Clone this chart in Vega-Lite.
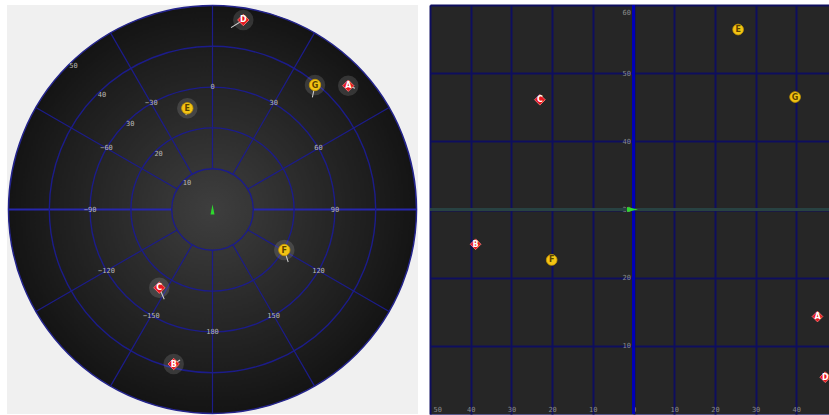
{
  "$schema": "https://vega.github.io/schema/vega-lite/v6.json",
  "background": "#ffffff",
  "padding": {"left": 4, "top": 2, "right": 0, "bottom": 0},
  "spacing": 12,
  "bounds": "flush",
  "config": {"view": {"stroke": null}, "font": "DejaVu Sans Mono"},
  "resolve": {"scale": {"x": "independent", "y": "independent"}},
  "datasets": {
    "rings": [{"el": 10}, {"el": 20}, {"el": 30}, {"el": 40}],
    "outer": [{"el": 50}],
    "inner": [{"el": 10}],
    "azimuths": [{"az": -150}, {"az": -120}, {"az": -90}, {"az": -60}, {"az": -30}, {"az": 0}, {"az": 30}, {"az": 60}, {"az": 90}, {"az": 120}, {"az": 150}, {"az": 180}],
    "horizon": [{"az": -90}, {"az": 90}],
    "elLabels": [{"el": 10}, {"el": 20}, {"el": 30}, {"el": 40}, {"el": 50}],
    "sats": [
      {"id": "D", "cls": "R", "e": 7.55, "n": 46.45, "dir": 148, "trail": 14.5, "gx": 47.1, "gy": 5.4},
      {"id": "G", "cls": "Y", "e": 25.12, "n": 30.51, "dir": 102, "trail": 12.6, "gx": 39.7, "gy": 46.5},
      {"id": "A", "cls": "R", "e": 33.28, "n": 30.34, "dir": 21, "trail": 7.2, "gx": 45.2, "gy": 14.3},
      {"id": "E", "cls": "Y", "e": -6.18, "n": 24.8, "dir": 101, "trail": 7, "gx": 25.7, "gy": 56.4},
      {"id": "F", "cls": "Y", "e": 17.6, "n": -9.93, "dir": 72, "trail": 12.6, "gx": -20.1, "gy": 22.6},
      {"id": "C", "cls": "R", "e": -13.04, "n": -19.17, "dir": 67, "trail": 12.6, "gx": -23.0, "gy": 46.1},
      {"id": "B", "cls": "R", "e": -9.51, "n": -37.87, "dir": -32, "trail": 7.5, "gx": -38.8, "gy": 24.9}
    ],
    "observer": [{"e": 0, "n": 0}],
    "gridObserver": [{"ox": 0, "oy": 30}],
    "centerX": [{"cx": 0}],
    "centerY": [{"cy": 30}]
  },
  "hconcat": [
    {
      "width": 411,
      "height": 409,
      "view": {"fill": "#f0f0f0", "stroke": null},
      "layer": [
        {
          "data": {"name": "outer"},
          "mark": {
            "type": "arc",
            "fill": {"gradient": "radial", "x1": 0.5, "y1": 0.5, "r1": 0, "x2": 0.5, "y2": 0.5, "r2": 0.5,
              "stops": [{"offset": 0, "color": "#3e3e3e"}, {"offset": 1, "color": "#141414"}]},
            "stroke": "#24248c",
            "strokeWidth": 1.5
          },
          "encoding": {
            "theta": {"datum": -180, "type": "quantitative", "scale": {"domain": [-180, 180], "range": [-3.141592653589793, 3.141592653589793]}},
            "theta2": {"datum": 180},
            "radius": {"field": "el", "type": "quantitative", "stack": null, "scale": {"type": "linear", "domain": [0, 50], "range": [0, 204], "zero": true, "nice": false}}
          }
        },
        {
          "data": {"name": "azimuths"},
          "mark": {"type": "arc", "filled": false, "stroke": "#1c1c8a", "strokeWidth": 1.2},
          "encoding": {
            "theta": {"field": "az", "type": "quantitative", "stack": null},
            "theta2": {"field": "az"},
            "radius": {"datum": 50, "type": "quantitative"},
            "radius2": {"datum": 10}
          }
        },
        {
          "data": {"name": "horizon"},
          "mark": {"type": "arc", "filled": false, "stroke": "#2626ae", "strokeWidth": 1.8},
          "encoding": {
            "theta": {"field": "az", "type": "quantitative", "stack": null},
            "theta2": {"field": "az"},
            "radius": {"datum": 50, "type": "quantitative"},
            "radius2": {"datum": 10}
          }
        },
        {
          "data": {"name": "inner"},
          "mark": {
            "type": "arc",
            "fill": {"gradient": "radial", "x1": 0.5, "y1": 0.5, "r1": 0, "x2": 0.5, "y2": 0.5, "r2": 0.5,
              "stops": [{"offset": 0, "color": "#3e3e3e"}, {"offset": 1, "color": "#363636"}]},
            "strokeWidth": 0
          },
          "encoding": {
            "theta": {"datum": -180, "type": "quantitative"},
            "theta2": {"datum": 180},
            "radius": {"field": "el", "type": "quantitative", "stack": null}
          }
        },
        {
          "data": {"name": "rings"},
          "mark": {"type": "arc", "filled": false, "stroke": "#1c1c8a", "strokeWidth": 1.4},
          "encoding": {
            "theta": {"datum": -180, "type": "quantitative"},
            "theta2": {"datum": 180},
            "radius": {"field": "el", "type": "quantitative", "stack": null}
          }
        },
        {
          "data": {"name": "azimuths"},
          "mark": {"type": "text", "fill": "#b8b8b8", "fontSize": 7, "font": "DejaVu Sans Mono", "baseline": "middle", "align": "center"},
          "encoding": {
            "theta": {"field": "az", "type": "quantitative", "stack": null},
            "radius": {"datum": 30, "type": "quantitative"},
            "text": {"field": "az", "type": "quantitative", "format": "d"}
          }
        },
        {
          "data": {"name": "elLabels"},
          "mark": {"type": "text", "fill": "#b8b8b8", "fontSize": 7, "font": "DejaVu Sans Mono", "baseline": "middle", "align": "center", "radiusOffset": -4},
          "encoding": {
            "theta": {"datum": -44, "type": "quantitative"},
            "radius": {"field": "el", "type": "quantitative", "stack": null},
            "text": {"field": "el", "type": "quantitative", "format": "d"}
          }
        },
        {
          "data": {"name": "sats"},
          "mark": {"type": "point", "shape": "circle", "filled": true, "fill": "#ffffff", "fillOpacity": 0.13, "size": 420, "strokeWidth": 0},
          "encoding": {
            "x": {"field": "e", "type": "quantitative", "scale": {"domain": [-50.37, 50.37], "nice": false, "zero": false}, "axis": null},
            "y": {"field": "n", "type": "quantitative", "scale": {"domain": [-50.12, 50.12], "nice": false, "zero": false}, "axis": null}
          }
        },
        {
          "data": {"name": "sats"},
          "mark": {"type": "point", "shape": "M0,0L1,0", "filled": false, "stroke": "#d0d0d0", "strokeWidth": 1, "opacity": 1},
          "encoding": {
            "x": {"field": "e", "type": "quantitative"},
            "y": {"field": "n", "type": "quantitative"},
            "angle": {"field": "dir", "type": "quantitative", "scale": {"domain": [-180, 180], "range": [-180, 180]}},
            "size": {"field": "trail", "type": "quantitative", "scale": {"type": "pow", "exponent": 2, "domain": [0, 15], "range": [0, 900]}, "legend": null}
          }
        },
        {
          "data": {"name": "sats"},
          "mark": {"type": "point", "filled": true, "size": 130, "strokeWidth": 0.8, "opacity": 1},
          "encoding": {
            "x": {"field": "e", "type": "quantitative"},
            "y": {"field": "n", "type": "quantitative"},
            "shape": {"field": "cls", "type": "nominal", "scale": {"domain": ["R", "Y"], "range": ["diamond", "circle"]}, "legend": null},
            "color": {"field": "cls", "type": "nominal", "scale": {"domain": ["R", "Y"], "range": ["#e8161e", "#f2c414"]}, "legend": null},
            "stroke": {"field": "cls", "type": "nominal", "scale": {"domain": ["R", "Y"], "range": ["#ff8080", "#c89800"]}, "legend": null}
          }
        },
        {
          "data": {"name": "sats"},
          "mark": {"type": "text", "fontSize": 8, "fontWeight": "bold", "font": "DejaVu Sans", "baseline": "middle", "align": "center", "dy": 0.5},
          "encoding": {
            "x": {"field": "e", "type": "quantitative"},
            "y": {"field": "n", "type": "quantitative"},
            "text": {"field": "id", "type": "nominal"},
            "fill": {"field": "cls", "type": "nominal", "scale": {"domain": ["R", "Y"], "range": ["#ffffff", "#5a4200"]}, "legend": null}
          }
        },
        {
          "data": {"name": "observer"},
          "mark": {"type": "point", "shape": "M0,-1L0.4,1L-0.4,1Z", "filled": true, "fill": "#2ed82e", "size": 100, "strokeWidth": 0, "opacity": 1},
          "encoding": {
            "x": {"field": "e", "type": "quantitative"},
            "y": {"field": "n", "type": "quantitative"}
          }
        }
      ]
    },
    {
      "width": 399,
      "height": 409,
      "view": {"fill": "#262626", "stroke": "#5a5a8c", "strokeWidth": 1},
      "layer": [
        {
          "data": {"name": "centerY"},
          "mark": {"type": "rule", "stroke": "#284242", "strokeWidth": 3},
          "encoding": {
            "y": {"field": "cy", "type": "quantitative", "scale": {"domain": [0, 60], "nice": false, "zero": false},
              "axis": {"values": [10, 20, 30, 40, 50, 60], "grid": true, "gridColor": "#0e0e5e", "gridWidth": 2, "domain": false, "ticks": false,
                "offset": -203.5, "labelPadding": 3, "labelFlush": true, "labelFlushOffset": -3, "labelColor": "#8a8a8a", "labelFontSize": 7, "labelFont": "DejaVu Sans Mono", "title": null}}
          }
        },
        {
          "data": {"name": "centerX"},
          "mark": {"type": "rule", "stroke": "#0000b8", "strokeWidth": 3},
          "encoding": {
            "x": {"field": "cx", "type": "quantitative", "scale": {"domain": [-50, 48.03], "nice": false, "zero": false},
              "axis": {"values": [-50, -40, -30, -20, -10, 0, 10, 20, 30, 40], "grid": true, "gridColor": "#0e0e5e", "gridWidth": 2, "domain": false, "ticks": false,
                "labelExpr": "abs(datum.value)", "labelPadding": -3, "labelBaseline": "alphabetic", "labelFlush": true, "labelFlushOffset": -3, "labelColor": "#8a8a8a", "labelFontSize": 7, "labelFont": "DejaVu Sans Mono", "title": null}}
          }
        },
        {
          "data": {"name": "sats"},
          "mark": {"type": "point", "filled": true, "size": 115, "strokeWidth": 0.8, "opacity": 1},
          "encoding": {
            "x": {"field": "gx", "type": "quantitative"},
            "y": {"field": "gy", "type": "quantitative"},
            "shape": {"field": "cls", "type": "nominal", "scale": {"domain": ["R", "Y"], "range": ["diamond", "circle"]}, "legend": null},
            "color": {"field": "cls", "type": "nominal", "scale": {"domain": ["R", "Y"], "range": ["#e8161e", "#f2c414"]}, "legend": null},
            "stroke": {"field": "cls", "type": "nominal", "scale": {"domain": ["R", "Y"], "range": ["#ff8080", "#c89800"]}, "legend": null}
          }
        },
        {
          "data": {"name": "sats"},
          "mark": {"type": "text", "fontSize": 8, "fontWeight": "bold", "font": "DejaVu Sans", "baseline": "middle", "align": "center", "dy": 0.5},
          "encoding": {
            "x": {"field": "gx", "type": "quantitative"},
            "y": {"field": "gy", "type": "quantitative"},
            "text": {"field": "id", "type": "nominal"},
            "fill": {"field": "cls", "type": "nominal", "scale": {"domain": ["R", "Y"], "range": ["#ffffff", "#5a4200"]}, "legend": null}
          }
        },
        {
          "data": {"name": "gridObserver"},
          "mark": {"type": "point", "shape": "M-1,-0.45L1,0L-1,0.45Z", "filled": true, "fill": "#2ed82e", "size": 121, "strokeWidth": 0, "opacity": 1, "xOffset": -1},
          "encoding": {
            "x": {"field": "ox", "type": "quantitative"},
            "y": {"field": "oy", "type": "quantitative"}
          }
        }
      ]
    }
  ]
}
